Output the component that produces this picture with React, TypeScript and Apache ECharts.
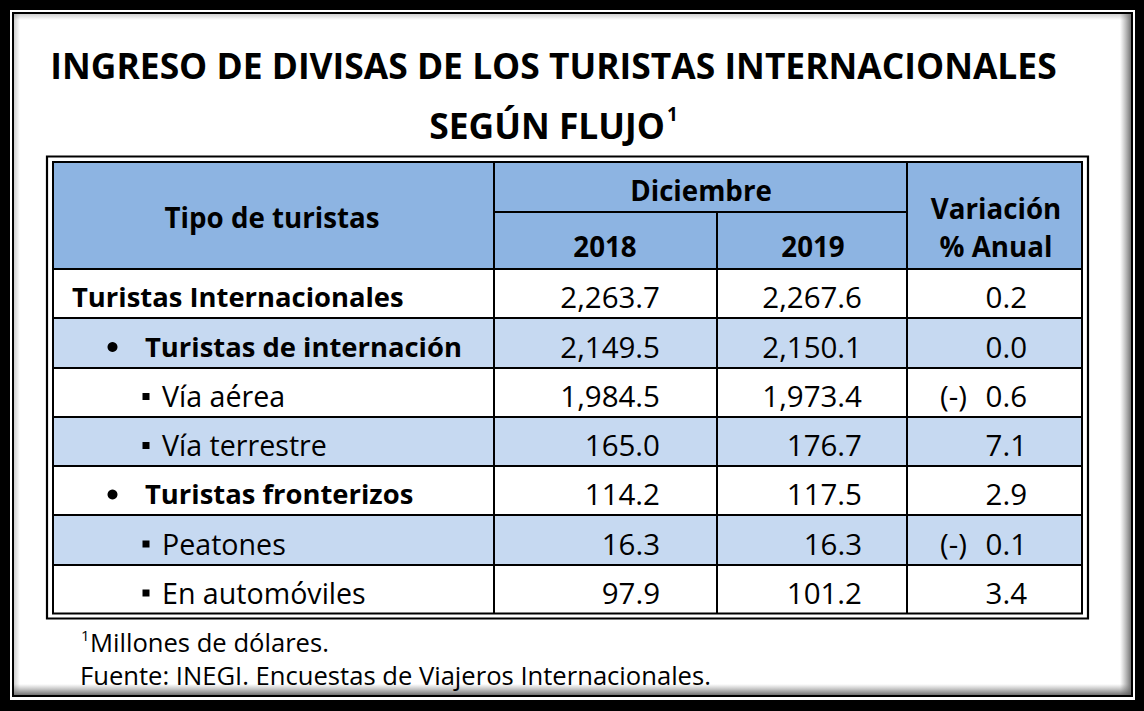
import React, { useEffect, useRef } from "react";
import * as echarts from "echarts";

const titleLines = ["INGRESO DE DIVISAS DE LOS TURISTAS INTERNACIONALES", "SEGÚN FLUJO"];
const titleSup = "1";
const headerFirst = "Tipo de turistas";
const headerGroup = "Diciembre";
const headerYears = ["2018", "2019"];
const headerVar = ["Variación", "% Anual"];
const rowLabels = [
  "Turistas Internacionales",
  "Turistas de internación",
  "Vía aérea",
  "Vía terrestre",
  "Turistas fronterizos",
  "Peatones",
  "En automóviles",
];
const rowLevels = [0, 1, 2, 2, 1, 2, 2];
const values2018 = [2263.7, 2149.5, 1984.5, 165.0, 114.2, 16.3, 97.9];
const values2019 = [2267.6, 2150.1, 1973.4, 176.7, 117.5, 16.3, 101.2];
const variation = [0.2, 0.0, -0.6, 7.1, 2.9, -0.1, 3.4];
const footnotes = ["Millones de dólares.", "Fuente: INEGI. Encuestas de Viajeros Internacionales."];

const FONT = "Open Sans";
const HEADER_FILL = "#8DB4E2";
const ROW_ALT = "#C6D9F1";

function fmt(v: number) {
  return Math.abs(v).toLocaleString("en-US", { minimumFractionDigits: 1, maximumFractionDigits: 1 });
}

function buildGraphic() {
  const els: any[] = [];
  const W = 1144, H = 711;
  // outer frame
  els.push({ type: "rect", shape: { x: 0, y: 0, width: W, height: H }, style: { fill: "#000" } });
  els.push({ type: "rect", shape: { x: 10, y: 10, width: 1125, height: 690 }, style: { fill: "#fff" } });
  els.push({ type: "rect", shape: { x: 13, y: 13, width: 1119, height: 683 }, style: { fill: "#fff", stroke: "#000", lineWidth: 2 } });
  // inner shadows
  els.push({
    type: "rect", shape: { x: 1120, y: 14, width: 11, height: 681 },
    style: { fill: new echarts.graphic.LinearGradient(0, 0, 1, 0, [{ offset: 0, color: "rgba(120,120,120,0)" }, { offset: 1, color: "rgba(90,90,90,0.85)" }]) },
  });
  els.push({
    type: "rect", shape: { x: 14, y: 684, width: 1117, height: 11 },
    style: { fill: new echarts.graphic.LinearGradient(0, 0, 0, 1, [{ offset: 0, color: "rgba(120,120,120,0)" }, { offset: 1, color: "rgba(90,90,90,0.85)" }]) },
  });
  els.push({
    type: "rect", shape: { x: 14, y: 14, width: 6, height: 681 },
    style: { fill: new echarts.graphic.LinearGradient(0, 0, 1, 0, [{ offset: 0, color: "rgba(120,120,120,0.35)" }, { offset: 1, color: "rgba(120,120,120,0)" }]) },
  });
  els.push({
    type: "rect", shape: { x: 14, y: 14, width: 1117, height: 6 },
    style: { fill: new echarts.graphic.LinearGradient(0, 0, 0, 1, [{ offset: 0, color: "rgba(120,120,120,0.35)" }, { offset: 1, color: "rgba(120,120,120,0)" }]) },
  });

  // title
  els.push({
    type: "text", x: 553.5, y: 65,
    style: { text: titleLines[0], fill: "#000", fontFamily: FONT, fontWeight: "bold", fontSize: 35.4, align: "center", verticalAlign: "middle" },
  });
  els.push({
    type: "text", x: 665, y: 125,
    style: { text: titleLines[1], fill: "#000", fontFamily: FONT, fontWeight: "bold", fontSize: 35.4, align: "right", verticalAlign: "middle" },
  });
  els.push({
    type: "text", x: 667, y: 114,
    style: { text: titleSup, fill: "#000", fontFamily: FONT, fontWeight: "bold", fontSize: 19, align: "left", verticalAlign: "middle" },
  });

  // table geometry
  const tL = 54, tR = 1081, tT = 163;
  const colX = [494, 717, 907];
  const subY = 212;
  const rowY = [269, 318, 368, 417, 466, 515, 565, 613];

  // header fill
  els.push({ type: "rect", shape: { x: tL, y: tT, width: tR - tL, height: rowY[0] - tT }, style: { fill: HEADER_FILL } });
  // row fills
  for (let i = 0; i < rowLabels.length; i++) {
    els.push({
      type: "rect",
      shape: { x: tL, y: rowY[i], width: tR - tL, height: rowY[i + 1] - rowY[i] },
      style: { fill: i % 2 === 1 ? ROW_ALT : "#fff" },
    });
  }
  // double outer border
  els.push({ type: "rect", shape: { x: 47, y: 156.5, width: 1041, height: 462 }, style: { fill: "none", stroke: "#000", lineWidth: 2.2 }, silent: true });
  els.push({ type: "rect", shape: { x: 53, y: 162, width: 1029, height: 451.5 }, style: { fill: "none", stroke: "#000", lineWidth: 2 }, silent: true });
  // grid lines
  const line = (x1: number, y1: number, x2: number, y2: number) =>
    els.push({ type: "line", shape: { x1, y1, x2, y2 }, style: { stroke: "#000", lineWidth: 2 } });
  for (let i = 0; i < rowY.length - 1; i++) line(tL, rowY[i], tR, rowY[i]);
  line(colX[0], subY, colX[2], subY);
  line(colX[0], tT, colX[0], 613);
  line(colX[1], subY, colX[1], 613);
  line(colX[2], tT, colX[2], 613);

  const txt = (text: string, x: number, y: number, align: string, size: number, weight: string) =>
    els.push({ type: "text", x, y, style: { text, fill: "#000", fontFamily: FONT, fontWeight: weight, fontSize: size, align, verticalAlign: "middle" } });

  // header texts
  const HS = 27.7;
  txt(headerFirst, 272, 217, "center", HS, "bold");
  txt(headerGroup, 701, 190, "center", HS, "bold");
  txt(headerYears[0], 605, 246, "center", HS, "bold");
  txt(headerYears[1], 813, 246, "center", HS, "bold");
  txt(headerVar[0], 996, 208, "center", HS, "bold");
  txt(headerVar[1], 996, 246, "center", HS, "bold");

  // rows
  for (let i = 0; i < rowLabels.length; i++) {
    const cy = (rowY[i] + rowY[i + 1]) / 2 + 3;
    const lvl = rowLevels[i];
    if (lvl === 0) {
      txt(rowLabels[i], 72, cy, "left", 27.4, "bold");
    } else if (lvl === 1) {
      els.push({ type: "circle", shape: { cx: 112.5, cy: cy + 1, r: 5 }, style: { fill: "#000" } });
      txt(rowLabels[i], 145, cy, "left", 27.4, "bold");
    } else {
      els.push({ type: "rect", shape: { x: 142.5, y: cy - 2.5, width: 7, height: 7 }, style: { fill: "#000" } });
      txt(rowLabels[i], 162, cy, "left", 28.6, "normal");
    }
    txt(fmt(values2018[i]), 660, cy, "right", 29.5, "normal");
    txt(fmt(values2019[i]), 862, cy, "right", 29.5, "normal");
    txt(fmt(variation[i]), 1027, cy, "right", 29.5, "normal");
    if (variation[i] < 0) txt("(-)", 940, cy, "left", 29.5, "normal");
  }

  // footnotes
  txt("1", 81, 635, "left", 15, "normal");
  txt(footnotes[0], 90, 642, "left", 25.6, "normal");
  txt(footnotes[1], 80, 675, "left", 25.6, "normal");

  return els;
}

export default function App() {
  const ref = useRef<HTMLDivElement>(null);
  useEffect(() => {
    document.body.style.margin = "0";
    if (!ref.current) return;
    const chart = echarts.init(ref.current, null, { renderer: "svg", width: 1144, height: 711 });
    chart.setOption({ animation: false, graphic: { elements: buildGraphic() } });
    return () => chart.dispose();
  }, []);
  return <div ref={ref} style={{ width: 1144, height: 711 }} />;
}
